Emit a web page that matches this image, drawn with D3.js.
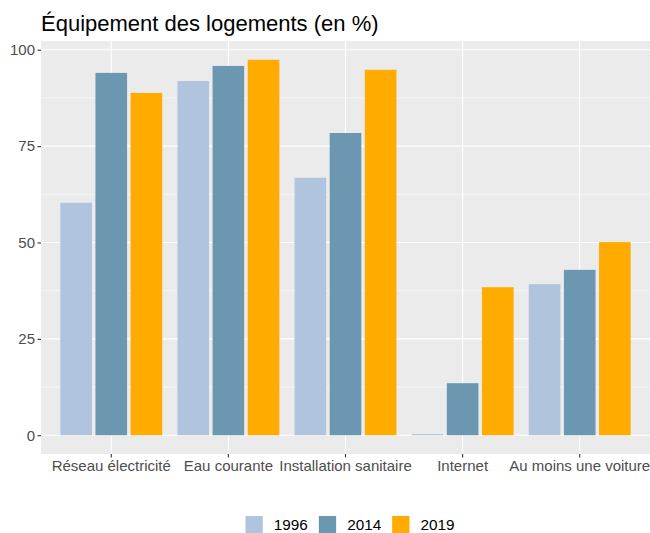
<!DOCTYPE html>
<html>
<head>
<meta charset="utf-8">
<script src="https://cdn.jsdelivr.net/npm/d3@7"></script>
<style>
  body { margin: 0; background: #fff; }
  svg { display: block; font-family: "Liberation Sans", Arial, sans-serif; }
</style>
</head>
<body>
<div id="chart"></div>
<script>
// Width and height
var chart_width  = 650;
var chart_height = 533;

// data
var categories = ["Réseau électricité", "Eau courante", "Installation sanitaire", "Internet", "Au moins une voiture"];
var years      = ["1996", "2014", "2019"];
var values1996 = [60.3, 91.9, 66.8, 0.3, 39.2];
var values2014 = [94.0, 95.8, 78.4, 13.5, 42.9];
var values2019 = [88.8, 97.4, 94.8, 38.4, 50.1];
var yTicks     = [0, 25, 50, 75, 100];
var colors     = ["#B0C4DE", "#6B97B0", "#FFAB00"];

var series = [values1996, values2014, values2019];

// panel box
var panel = {left: 41, right: 650, top: 41, bottom: 454};

// ggplot-like 5% expansion on y
var maxV = d3.max(series, function(s){ return d3.max(s); });
var pad = (maxV - 0) * 0.05;

var y = d3.scaleLinear()
    .domain([0 - pad, maxV + pad])
    .range([panel.bottom, panel.top]);

var x = d3.scaleBand()
    .domain(categories)
    .range([panel.left, panel.right])
    .paddingInner(0)
    .paddingOuter(0.1);

var x1 = d3.scaleBand()
    .domain(years)
    .range([0, x.bandwidth() * 0.9]);

var svg = d3.select("#chart")
    .append("svg")
    .attr("width", chart_width)
    .attr("height", chart_height);

// panel background
svg.append("rect")
    .attr("x", panel.left)
    .attr("y", panel.top)
    .attr("width", panel.right - panel.left)
    .attr("height", panel.bottom - panel.top)
    .attr("fill", "#EBEBEB");

// minor grid
var minor = [];
for (var i = 0; i < yTicks.length - 1; i++) minor.push((yTicks[i] + yTicks[i + 1]) / 2);
svg.selectAll(".minor")
    .data(minor)
    .enter()
    .append("line")
    .attr("x1", panel.left).attr("x2", panel.right)
    .attr("y1", function(d){ return y(d); })
    .attr("y2", function(d){ return y(d); })
    .attr("stroke", "#fff")
    .attr("stroke-width", 0.55);

// major grid
svg.selectAll(".major")
    .data(yTicks)
    .enter()
    .append("line")
    .attr("x1", panel.left).attr("x2", panel.right)
    .attr("y1", function(d){ return y(d); })
    .attr("y2", function(d){ return y(d); })
    .attr("stroke", "#fff")
    .attr("stroke-width", 1.1);

svg.selectAll(".vgrid")
    .data(categories)
    .enter()
    .append("line")
    .attr("x1", function(d){ return x(d) + x.bandwidth() / 2; })
    .attr("x2", function(d){ return x(d) + x.bandwidth() / 2; })
    .attr("y1", panel.top).attr("y2", panel.bottom)
    .attr("stroke", "#fff")
    .attr("stroke-width", 1.1);

// bars
var groups = svg.selectAll(".grp")
    .data(categories)
    .enter()
    .append("g")
    .attr("transform", function(d){ return "translate(" + (x(d) + x.bandwidth() * 0.05) + ",0)"; });

groups.selectAll("rect")
    .data(function(d, ci){ return years.map(function(yr, si){ return {year: yr, si: si, v: series[si][ci]}; }); })
    .enter()
    .append("rect")
    .attr("x", function(d){ return x1(d.year) + x1.bandwidth() * 0.05; })
    .attr("width", x1.bandwidth() * 0.9)
    .attr("y", function(d){ return y(d.v); })
    .attr("height", function(d){ return y(0) - y(d.v); })
    .attr("fill", function(d){ return colors[d.si]; });

// y axis
var yAxis = svg.append("g")
    .attr("transform", "translate(" + panel.left + ",0)")
    .call(d3.axisLeft(y).tickValues(yTicks).tickSize(3.5).tickPadding(2.5))
    .attr("font-family", null)
    .attr("font-size", null);
yAxis.select(".domain").remove();
yAxis.selectAll("line").attr("stroke", "#333333").attr("stroke-width", 1.1);
yAxis.selectAll("text").attr("fill", "#4D4D4D").style("font-size", "15px");

// x axis
var xAxis = svg.append("g")
    .attr("transform", "translate(0," + panel.bottom + ")")
    .call(d3.axisBottom(x).tickSize(3.5).tickPadding(2.5))
    .attr("font-family", null)
    .attr("font-size", null);
xAxis.select(".domain").remove();
xAxis.selectAll("line").attr("stroke", "#333333").attr("stroke-width", 1.1);
xAxis.selectAll("text").attr("fill", "#4D4D4D").style("font-size", "15px");

// title
svg.append("text")
    .attr("x", panel.left)
    .attr("y", 30.5)
    .attr("fill", "#000")
    .style("font-size", "22px")
    .text("Équipement des logements (en %)");

// legend
var lg = svg.append("g");
var lx = 0;
years.forEach(function(yr, i){
    lg.append("rect")
      .attr("x", lx).attr("y", 516)
      .attr("width", 17.3).attr("height", 17.3)
      .attr("fill", colors[i]);
    var t = lg.append("text")
      .attr("x", lx + 17.3 + 11)
      .attr("y", 530)
      .attr("fill", "#000")
      .style("font-size", "15.3px")
      .text(yr);
    lx += 17.3 + 11 + t.node().getComputedTextLength() + 11;
});
var lw = lx - 11;
lg.attr("transform", "translate(" + (350 - lw / 2) + ",0)");
</script>
</body>
</html>
